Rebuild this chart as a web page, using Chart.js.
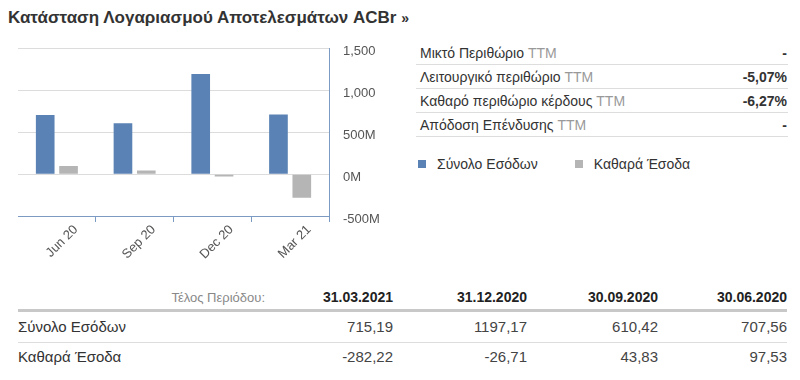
<!DOCTYPE html>
<html>
<head>
<meta charset="utf-8">
<script src="https://cdn.jsdelivr.net/npm/chart.js@4"></script>
<style>
    body { margin: 0; width: 800px; height: 380px; background: #fff; font-family: "Liberation Sans", Arial, sans-serif; color: #333; position: relative; overflow: hidden; }
    .title { position: absolute; left: 8px; top: 8px; font-size: 17px; font-weight: bold; color: #333; }
    .title span { font-size: 14px; }
    .chart-box { position: absolute; left: 0; top: 27px; width: 379px; height: 239px; }
    .ratios { position: absolute; left: 416px; top: 41px; width: 372px; border-collapse: collapse; font-size: 14px; }
    .ratios td { height: 23px; border-bottom: 1px solid #ddd; padding: 0 0 0 4px; }
    .ratios td.v { text-align: right; font-weight: bold; padding-right: 1px; }
    .ratios .ttm { color: #999; }
    #legend-container { position: absolute; left: 418px; top: 154px; }
    .periods { position: absolute; left: 18px; top: 285px; width: 769px; border-collapse: collapse; table-layout: fixed; font-size: 15px; }
    .periods th { font-weight: bold; text-align: right; height: 24px; padding: 0; border-bottom: 3px solid #c8c8c8; color: #222; font-size: 14px; }
    .periods th.lbl { font-weight: normal; color: #888; font-size: 13px; }
    .periods td { padding: 0; text-align: right; color: #444; line-height: 16px; }
    .periods td.name { text-align: left; color: #333; }
    .periods tr.first td { border-bottom: 1px solid #ddd; height: 30px; }
    .periods tr.second td { height: 28px; }
</style>
</head>
<body>
<div class="title">Κατάσταση Λογαριασμού Αποτελεσμάτων ACBr <span>»</span></div>
<div class="chart-box"><canvas id="chart"></canvas></div>

<table class="ratios">
    <tr><td>Μικτό Περιθώριο <span class="ttm">TTM</span></td><td class="v">-</td></tr>
    <tr><td>Λειτουργικό περιθώριο <span class="ttm">TTM</span></td><td class="v">-5,07%</td></tr>
    <tr><td>Καθαρό περιθώριο κέρδους <span class="ttm">TTM</span></td><td class="v">-6,27%</td></tr>
    <tr><td>Απόδοση Επένδυσης <span class="ttm">TTM</span></td><td class="v">-</td></tr>
</table>
<div id="legend-container"></div>

<table class="periods">
    <colgroup>
        <col style="width:247px"><col style="width:128px"><col style="width:134px"><col style="width:131px"><col style="width:129px">
    </colgroup>
    <tr>
        <th class="lbl">Τέλος Περιόδου:</th>
        <th>31.03.2021</th>
        <th>31.12.2020</th>
        <th>30.09.2020</th>
        <th>30.06.2020</th>
    </tr>
    <tr class="first">
        <td class="name">Σύνολο Εσόδων</td>
        <td>715,19</td><td>1197,17</td><td>610,42</td><td>707,56</td>
    </tr>
    <tr class="second">
        <td class="name">Καθαρά Έσοδα</td>
        <td>-282,22</td><td>-26,71</td><td>43,83</td><td>97,53</td>
    </tr>
</table>

<script>
// data (εκατ.)
const quarters = ['Jun 20', 'Sep 20', 'Dec 20', 'Mar 21'];
const totalRevenue = [707.56, 610.42, 1197.17, 715.19];
const netIncome = [97.53, 43.83, -26.71, -282.22];
const seriesNames = ['Σύνολο Εσόδων', 'Καθαρά Έσοδα'];
const yTicks = [-500, 0, 500, 1000, 1500];

const blue = '#5a82b4';
const gray = '#b5b5b5';
const axisBlue = '#7b9bc5';

// html legend
const htmlLegendPlugin = {
    id: 'htmlLegend',
    afterUpdate(chart, args, options) {
        const box = document.getElementById(options.containerID);
        box.innerHTML = '';
        const items = chart.options.plugins.legend.labels.generateLabels(chart);
        items.forEach((item, i) => {
            const wrap = document.createElement('span');
            wrap.style.display = 'inline-flex';
            wrap.style.alignItems = 'center';
            wrap.style.marginRight = i === 0 ? '37px' : '0';
            wrap.style.fontSize = '14px';
            wrap.style.color = '#333';

            const sq = document.createElement('span');
            sq.style.display = 'inline-block';
            sq.style.width = '8px';
            sq.style.height = '8px';
            sq.style.background = item.fillStyle;
            sq.style.marginRight = '11px';

            wrap.appendChild(sq);
            wrap.appendChild(document.createTextNode(item.text));
            box.appendChild(wrap);
        });
    }
};

new Chart(document.getElementById('chart'), {
    type: 'bar',
    data: {
        labels: quarters,
        datasets: [
            { label: seriesNames[0], data: totalRevenue, backgroundColor: blue },
            { label: seriesNames[1], data: netIncome, backgroundColor: gray }
        ]
    },
    options: {
        responsive: true,
        maintainAspectRatio: false,
        animation: false,
        categoryPercentage: 0.6,
        barPercentage: 0.8,
        layout: { padding: { left: 18, top: 8, right: 0, bottom: 0 } },
        plugins: {
            legend: { display: false },
            tooltip: { enabled: false },
            htmlLegend: { containerID: 'legend-container' }
        },
        scales: {
            x: {
                grid: {
                    offset: true,
                    drawOnChartArea: false,
                    tickLength: 6,
                    color: ctx => ctx.index === 0 ? 'rgba(0,0,0,0)' : axisBlue
                },
                border: { color: axisBlue, width: 1 },
                ticks: {
                    minRotation: 45,
                    maxRotation: 45,
                    labelOffset: 19,
                    padding: 0,
                    color: '#555',
                    font: { family: 'Liberation Sans', size: 13 }
                },
                afterFit(scale) { scale.height = 50; }
            },
            y: {
                position: 'right',
                min: yTicks[0],
                max: yTicks[yTicks.length - 1],
                afterBuildTicks(scale) { scale.ticks = yTicks.map(v => ({ value: v })); },
                grid: { color: '#dcdcdc', drawTicks: false },
                border: { color: axisBlue, width: 1 },
                ticks: {
                    padding: 14,
                    labelOffset: 3,
                    color: '#555',
                    font: { family: 'Liberation Sans', size: 13 },
                    callback: v => Math.abs(v) >= 1000 ? v.toLocaleString('en-US') : v + 'M'
                },
                afterFit(scale) { scale.width = 50; }
            }
        }
    },
    plugins: [htmlLegendPlugin]
});
</script>
</body>
</html>
